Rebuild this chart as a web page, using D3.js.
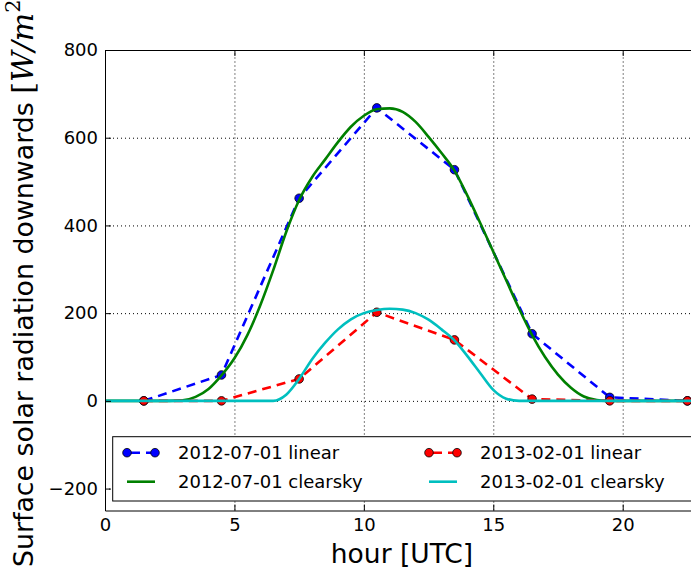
<!DOCTYPE html>
<html>
<head>
<meta charset="utf-8">
<script src="https://cdn.jsdelivr.net/npm/d3@7"></script>
<style>
  body { margin: 0; background: #fff; }
  svg { display: block; font-family: "DejaVu Sans", sans-serif; }
  .grid line { stroke: #000; stroke-dasharray: 1,3; stroke-width: 1; }
  .grid path { display: none; }
  .axis path, .axis line { stroke: #000; stroke-width: 1; }
  .axis text { font-size: 18px; fill: #000; font-family: "DejaVu Sans", sans-serif; }
</style>
</head>
<body>
<svg id="chart" width="691" height="573"></svg>
<script>
// hours of the 3-hourly samples
var hours = [1.5, 4.5, 7.5, 10.5, 13.5, 16.5, 19.5, 22.5];
var july_linear = [0, 59, 462, 668, 527, 153, 8, 0];
var feb_linear  = [0, 0, 50, 202, 139, 4, 0, 0];

// clearsky curves, read every half hour
var csHours = [0, 0.5, 1, 1.5, 2, 2.5, 3, 3.5, 4, 4.5, 5, 5.5, 6, 6.5, 7, 7.5, 8, 8.5, 9, 9.5,
  10, 10.5, 11, 11.5, 12, 12.5, 13, 13.5, 14, 14.5, 15, 15.5, 16, 16.5, 17, 17.5, 18, 18.5, 19, 19.5,
  20, 20.5, 21, 21.5, 22, 22.5, 23, 23.5, 24];
var july_clearsky = [0, 0, 0, 0, 0, 0, 1, 9, 27, 58, 97, 150, 218, 298, 385, 458, 510, 550, 590, 625,
  650, 665, 667, 659, 636, 602, 565, 525, 468, 405, 340, 275, 210, 150, 100, 60, 30, 10, 2, 0,
  0, 0, 0, 0, 0, 0, 0, 0, 0];
var feb_clearsky = [0, 0, 0, 0, 0, 0, 0, 0, 0, 0, 0, 0, 0, 0, 14, 50, 95, 132, 163, 186,
  200, 207, 210, 208, 200, 185, 163, 138, 102, 63, 25, 5, 0, 0, 0, 0, 0, 0, 0, 0,
  0, 0, 0, 0, 0, 0, 0, 0, 0];

var xTicks = [0, 5, 10, 15, 20];
var yTicks = [-200, 0, 200, 400, 600, 800];

var colors = { blue: '#0000ff', green: '#008000', red: '#ff0000', cyan: '#00bfbf' };

var svg = d3.select('#chart');
var mLeft = 105, mTop = 50, mBottom = 510.5;

var x = d3.scaleLinear().domain([0, 24]).range([mLeft, mLeft + 24 * 25.885]);
var y = d3.scaleLinear().domain([-250, 800]).range([mBottom, mTop]);
var mRight = x(24);

// grid
svg.append('g').attr('class', 'grid')
  .attr('transform', 'translate(0,' + mBottom + ')')
  .call(d3.axisBottom(x).tickValues(xTicks).tickSize(-(mBottom - mTop)).tickFormat(''));
svg.append('g').attr('class', 'grid')
  .attr('transform', 'translate(' + mLeft + ',0)')
  .call(d3.axisLeft(y).tickValues(yTicks).tickSize(-(mRight - mLeft)).tickFormat(''));

var plot = svg.append('g');

function linear(vals, color){
  var pts = hours.map(function(h, i){ return [h, vals[i]]; });
  plot.append('path')
    .datum(pts)
    .attr('fill', 'none')
    .attr('stroke', color)
    .attr('stroke-width', 2.6)
    .attr('stroke-dasharray', '9,6')
    .attr('d', d3.line().x(function(d){ return x(d[0]); }).y(function(d){ return y(d[1]); }));
  plot.selectAll(null).data(pts).enter().append('circle')
    .attr('cx', function(d){ return x(d[0]); })
    .attr('cy', function(d){ return y(d[1]); })
    .attr('r', 4.3)
    .attr('fill', color)
    .attr('stroke', '#000')
    .attr('stroke-width', 0.8);
}

function clearsky(vals, color){
  var pts = csHours.map(function(h, i){ return [h, vals[i]]; });
  plot.append('path')
    .datum(pts)
    .attr('fill', 'none')
    .attr('stroke', color)
    .attr('stroke-width', 2.6)
    .attr('d', d3.line().curve(d3.curveMonotoneX)
      .x(function(d){ return x(d[0]); }).y(function(d){ return y(d[1]); }));
}

linear(july_linear, colors.blue);
clearsky(july_clearsky, colors.green);
linear(feb_linear, colors.red);
clearsky(feb_clearsky, colors.cyan);

// axes: ticks point inwards
svg.append('g').attr('class', 'axis')
  .attr('transform', 'translate(0,' + mBottom + ')')
  .call(d3.axisBottom(x).tickValues(xTicks).tickSize(-6).tickPadding(8).tickSizeOuter(0));
svg.append('g').attr('class', 'axis')
  .attr('transform', 'translate(0,' + mTop + ')')
  .call(d3.axisTop(x).tickValues(xTicks).tickSize(-6).tickFormat('').tickSizeOuter(0));
svg.append('g').attr('class', 'axis')
  .attr('transform', 'translate(' + mLeft + ',0)')
  .call(d3.axisLeft(y).tickValues(yTicks).tickSize(-6).tickPadding(7).tickSizeOuter(0)
    .tickFormat(function(d){ return d < 0 ? '\u2212' + Math.abs(d) : d; }));

// legend
var lg = svg.append('g');
lg.append('rect')
  .attr('x', 112.7).attr('y', 436.7)
  .attr('width', 640).attr('height', 64.3)
  .attr('fill', '#fff').attr('stroke', '#000').attr('stroke-width', 1);

var entries = [
  { label: '2012-07-01 linear', color: colors.blue, marker: true, col: 0, row: 0 },
  { label: '2012-07-01 clearsky', color: colors.green, marker: false, col: 0, row: 1 },
  { label: '2013-02-01 linear', color: colors.red, marker: true, col: 1, row: 0 },
  { label: '2013-02-01 clearsky', color: colors.cyan, marker: false, col: 1, row: 1 }
];
var colX = [127, 429], rowY = [452.7, 481.7];

entries.forEach(function(e){
  var x0 = colX[e.col], yy = rowY[e.row];
  lg.append('line')
    .attr('x1', x0).attr('x2', x0 + 28).attr('y1', yy).attr('y2', yy)
    .attr('stroke', e.color).attr('stroke-width', 2.6)
    .attr('stroke-dasharray', e.marker ? '9,6' : null)
    .attr('stroke-dashoffset', e.marker ? -4 : null);
  if(e.marker){
    [x0, x0 + 28].forEach(function(cx){
      lg.append('circle').attr('cx', cx).attr('cy', yy).attr('r', 4.3)
        .attr('fill', e.color).attr('stroke', '#000').attr('stroke-width', 0.8);
    });
  }
  lg.append('text')
    .attr('x', x0 + 51).attr('y', yy).attr('dy', '0.36em')
    .attr('font-size', 18)
    .text(e.label);
});

// axis labels
svg.append('text')
  .attr('x', 402).attr('y', 563)
  .attr('text-anchor', 'middle')
  .attr('font-size', 26.5)
  .text('hour [UTC]');

var yl = svg.append('text')
  .attr('transform', 'translate(33,567) rotate(-90)')
  .attr('font-size', 26.8);
yl.append('tspan').text('Surface solar radiation downwards ');
yl.append('tspan').attr('font-family', 'DejaVu Serif').attr('font-size', 30).text('[');
yl.append('tspan').attr('font-family', 'DejaVu Serif').attr('font-size', 30).attr('font-style', 'italic').text('W/m');
yl.append('tspan').attr('font-family', 'DejaVu Serif').attr('font-size', 21).attr('dy', -13).text('2');
yl.append('tspan').attr('font-family', 'DejaVu Serif').attr('font-size', 30).attr('dy', 13).text(']');
</script>
</body>
</html>
